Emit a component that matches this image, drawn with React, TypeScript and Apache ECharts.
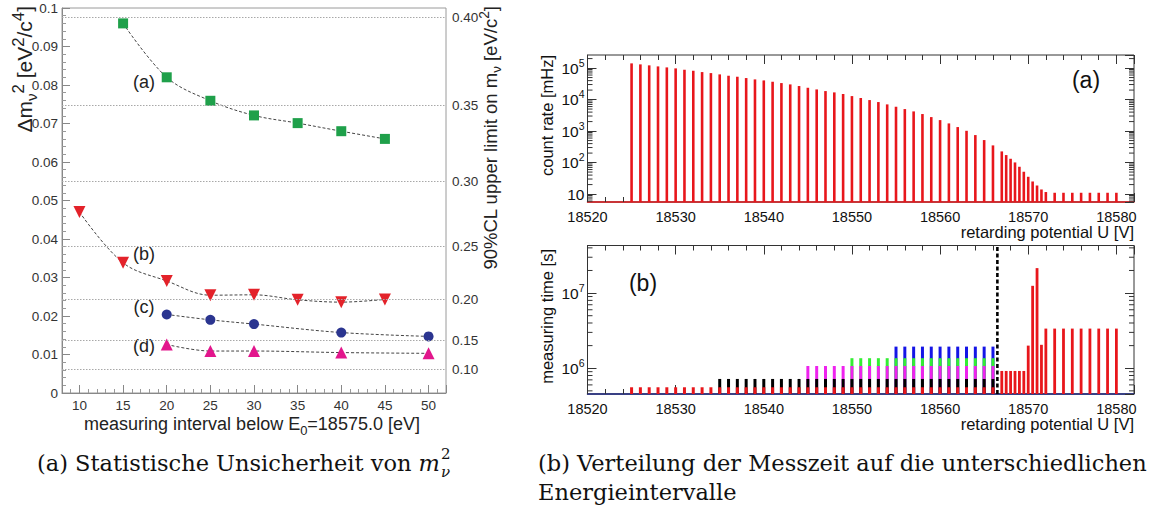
import React, { useEffect, useRef } from "react";
import * as echarts from "echarts";

// ---------- left chart data ----------
const aInterval = [15, 20, 25, 30, 35, 40, 45];
const aSigma = [0.096, 0.082, 0.0759, 0.0721, 0.0701, 0.068, 0.066];
const bInterval = [10, 15, 20, 25, 30, 35, 40, 45];
const bSigma = [0.047, 0.0338, 0.0291, 0.0254, 0.0255, 0.0242, 0.0236, 0.0243];
const cInterval = [20, 25, 30, 40, 50];
const cSigma = [0.0204, 0.019, 0.0179, 0.0157, 0.0147];
const dInterval = [20, 25, 30, 40, 50];
const dSigma = [0.0126, 0.0109, 0.0109, 0.0105, 0.0103];
const mLimitTicks = [0.1, 0.15, 0.2, 0.25, 0.3, 0.35, 0.4];
const CL90 = 1.64;

// ---------- right charts data ----------
const uStep1 = [18525, 18526, 18527, 18528, 18529, 18530, 18531, 18532, 18533, 18534, 18535, 18536, 18537, 18538, 18539, 18540, 18541, 18542, 18543, 18544, 18545, 18546, 18547, 18548, 18549, 18550, 18551, 18552, 18553, 18554, 18555, 18556, 18557, 18558, 18559, 18560, 18561, 18562, 18563, 18564, 18565, 18566];
const uFine = [18567, 18567.5, 18568, 18568.5, 18569, 18569.5, 18570, 18570.5, 18571, 18571.5, 18572];
const uTail = [18573, 18574, 18575, 18576, 18577, 18578, 18579, 18580];
const rateU = [...uStep1, ...uFine, ...uTail];
const rateMHz = [141000, 131000, 122000, 113000, 105000, 97700, 88500, 82200, 74600, 69300, 63000, 57100, 53100, 48200, 43700, 40600, 36800, 33400, 30300, 26900, 23700, 21000, 18600, 16900, 15000, 12900, 11200, 9640, 8340, 7030, 5920, 4990, 4210, 3470, 2780, 2230, 1750, 1340, 1020, 746, 518, 351,
  226, 173, 132, 101, 73.6, 51, 35.4, 25.1, 18.7, 14, 11.6,
  11, 11, 11, 11, 11, 11, 11, 11];

const time50U = uStep1;
const time50 = [5.58e5, 5.58e5, 5.58e5, 5.58e5, 5.58e5, 5.58e5, 5.58e5, 5.58e5, 5.58e5, 5.58e5, 5.58e5, 5.58e5, 5.58e5, 5.58e5, 5.58e5, 5.58e5, 5.58e5, 5.58e5, 5.58e5, 5.58e5, 5.58e5, 5.58e5, 5.58e5, 5.58e5, 5.58e5, 5.58e5, 5.58e5, 5.58e5, 5.58e5, 5.58e5, 5.58e5, 5.58e5, 5.58e5, 5.58e5, 5.58e5, 5.58e5, 5.58e5, 5.58e5, 5.58e5, 5.58e5, 5.58e5, 5.58e5];
const time40U = uStep1.slice(10);
const time40 = [7.2e5, 7.2e5, 7.2e5, 7.2e5, 7.2e5, 7.2e5, 7.2e5, 7.2e5, 7.2e5, 7.2e5, 7.2e5, 7.2e5, 7.2e5, 7.2e5, 7.2e5, 7.2e5, 7.2e5, 7.2e5, 7.2e5, 7.2e5, 7.2e5, 7.2e5, 7.2e5, 7.2e5, 7.2e5, 7.2e5, 7.2e5, 7.2e5, 7.2e5, 7.2e5, 7.2e5, 7.2e5];
const time30U = uStep1.slice(20);
const time30 = [1.07e6, 1.07e6, 1.07e6, 1.07e6, 1.07e6, 1.07e6, 1.07e6, 1.07e6, 1.07e6, 1.07e6, 1.07e6, 1.07e6, 1.07e6, 1.07e6, 1.07e6, 1.07e6, 1.07e6, 1.07e6, 1.07e6, 1.07e6, 1.07e6, 1.07e6];
const time25U = uStep1.slice(25);
const time25 = [1.36e6, 1.36e6, 1.36e6, 1.36e6, 1.36e6, 1.36e6, 1.36e6, 1.36e6, 1.36e6, 1.36e6, 1.36e6, 1.36e6, 1.36e6, 1.36e6, 1.36e6, 1.36e6, 1.36e6];
const time20U = uStep1.slice(30);
const time20 = [1.94e6, 1.94e6, 1.94e6, 1.94e6, 1.94e6, 1.94e6, 1.94e6, 1.94e6, 1.94e6, 1.94e6, 1.94e6, 1.94e6];
const timeBgU = [...uFine, ...uTail];
const timeBg = [9.2e5, 9.2e5, 9.2e5, 9.2e5, 9.2e5, 9.2e5, 2.0e6, 1.25e7, 2.15e7, 2.05e6, 3.37e6, 3.37e6, 3.37e6, 3.37e6, 3.37e6, 3.37e6, 3.37e6, 3.37e6, 3.37e6];
const endpointU = 18566.5;

const U_MIN = 18520;
const U_MAX = 18582;
const RATE_MIN = 5.6;
const RATE_MAX = 2.6e5;
const TIME_MIN = 4.54e5;
const TIME_MAX = 4.3e7;

const FONT = "'Liberation Sans', Arial, Helvetica, sans-serif";
const SERIF = "'DejaVu Serif', serif";
const CAP_SIZE = 22.5;

const zip = (xs: number[], ys: number[]) => xs.map((x, i) => [x, ys[i]]);

const barRender = (color: string, w: number) => (params: any, api: any) => {
  const p = api.coord([api.value(0), api.value(1)]);
  const cs = params.coordSys;
  const bottom = cs.y + cs.height;
  return {
    type: "rect",
    shape: { x: p[0] - w / 2, y: p[1], width: w, height: Math.max(0, bottom - p[1]) },
    style: { fill: color },
  };
};

const logMinorTicks = (lo: number, hi: number) => {
  const out: number[][] = [];
  for (let e = Math.floor(Math.log10(lo)); e <= Math.ceil(Math.log10(hi)); e++) {
    for (let k = 2; k <= 9; k++) {
      const v = k * Math.pow(10, e);
      if (v > lo && v < hi) out.push([U_MIN, v]);
    }
  }
  return out;
};

const minorRender = (params: any, api: any) => {
  const y = api.coord([api.value(0), api.value(1)])[1];
  const cs = params.coordSys;
  return {
    type: "group",
    children: [
      { type: "line", shape: { x1: cs.x, y1: y, x2: cs.x + 5, y2: y }, style: { stroke: "#333", lineWidth: 1 } },
      { type: "line", shape: { x1: cs.x + cs.width - 5, y1: y, x2: cs.x + cs.width, y2: y }, style: { stroke: "#333", lineWidth: 1 } },
    ],
  };
};

const logLabel = (v: number) => {
  const e = Math.round(Math.log10(v));
  return e === 1 ? "{b|10}" : `{b|10}{s|${e}}`;
};

const logRich = {
  b: { fontSize: 15.5, fontFamily: FONT, color: "#111", lineHeight: 22 },
  s: { fontSize: 10.5, fontFamily: FONT, color: "#111", lineHeight: 12, verticalAlign: "top" },
};

const titleRich = (size: number, color: string, supRatio = 0.75) => ({
  t: { fontSize: size, fontFamily: FONT, fill: color, lineHeight: size + 8 },
  sub: { fontSize: size * 0.72, fontFamily: FONT, fill: color, lineHeight: size * 0.72, verticalAlign: "bottom" },
  sup: { fontSize: size * supRatio, fontFamily: FONT, fill: color, lineHeight: size * supRatio, verticalAlign: "top" },
});

export default function App() {
  const ref = useRef<HTMLDivElement>(null);
  useEffect(() => {
    const chart = echarts.init(ref.current!, null, { renderer: "svg" });

    const canvas = document.createElement("canvas");
    const ctx = canvas.getContext("2d")!;
    ctx.font = `${CAP_SIZE}px ${SERIF}`;
    const capA = "(a) Statistische Unsicherheit von ";
    const wA = ctx.measureText(capA).width;
    ctx.font = `italic ${CAP_SIZE}px ${SERIF}`;
    const wM = ctx.measureText("m").width;
    const capX = 37;

    const leftAxisLabel = { fontSize: 13.5, fontFamily: FONT, color: "#333" };
    const rightXLabel = { fontSize: 14.5, fontFamily: FONT, color: "#111", margin: 7, formatter: (v: number) => String(v) };

    const lineSeries = (name: string, xs: number[], ys: number[], symbol: string, size: number, color: string, rotate = 0) => ({
      name,
      type: "line",
      xAxisIndex: 0,
      yAxisIndex: 0,
      data: zip(xs, ys),
      smooth: 0.35,
      symbol,
      symbolSize: size,
      symbolRotate: rotate,
      itemStyle: { color },
      lineStyle: { color: "#444", width: 1, type: [3, 2] },
      z: 3,
    });

    const option: any = {
      animation: false,
      backgroundColor: "#fff",
      grid: [
        { left: 62, top: 8, width: 384, height: 385, show: true, borderColor: "#9a9a9a", borderWidth: 1, backgroundColor: "transparent" },
        { left: 587.5, top: 55, width: 546.5, height: 147, show: true, borderColor: "#333", borderWidth: 1, backgroundColor: "transparent" },
        { left: 587.5, top: 245.5, width: 546.5, height: 148.5, show: true, borderColor: "#333", borderWidth: 1, backgroundColor: "transparent" },
      ],
      xAxis: [
        {
          gridIndex: 0, type: "value", min: 8, max: 52, splitNumber: 9,
          axisLine: { lineStyle: { color: "#888" } },
          axisTick: { inside: true, length: 8, lineStyle: { color: "#888" } },
          minorTick: { show: true, splitNumber: 5, length: 4, lineStyle: { color: "#999" } },
          axisLabel: { ...leftAxisLabel, margin: 5, showMinLabel: false, showMaxLabel: false },
          splitLine: { show: false },
        },
        {
          gridIndex: 1, type: "value", position: "bottom", min: U_MIN, max: U_MAX, interval: 10,
          axisLine: { lineStyle: { color: "#d81418", width: 1.5 } },
          axisTick: { inside: true, length: 9, lineStyle: { color: "#333" } },
          minorTick: { show: true, splitNumber: 5, length: 5, lineStyle: { color: "#333" } },
          axisLabel: { ...rightXLabel, showMaxLabel: false },
          splitLine: { show: false },
        },
        {
          gridIndex: 1, type: "value", position: "top", min: U_MIN, max: U_MAX, interval: 10,
          axisLine: { show: false },
          axisTick: { inside: true, length: 9, lineStyle: { color: "#333" } },
          minorTick: { show: true, splitNumber: 5, length: 5, lineStyle: { color: "#333" } },
          axisLabel: { show: false },
          splitLine: { show: false },
        },
        {
          gridIndex: 2, type: "value", position: "bottom", min: U_MIN, max: U_MAX, interval: 10,
          axisLine: { lineStyle: { color: "#1a237e", width: 1.5 } },
          axisTick: { inside: true, length: 9, lineStyle: { color: "#333" } },
          minorTick: { show: true, splitNumber: 5, length: 5, lineStyle: { color: "#333" } },
          axisLabel: { ...rightXLabel, showMaxLabel: false },
          splitLine: { show: false },
        },
        {
          gridIndex: 2, type: "value", position: "top", min: U_MIN, max: U_MAX, interval: 10,
          axisLine: { show: false },
          axisTick: { inside: true, length: 9, lineStyle: { color: "#333" } },
          minorTick: { show: true, splitNumber: 5, length: 5, lineStyle: { color: "#333" } },
          axisLabel: { show: false },
          splitLine: { show: false },
        },
      ],
      yAxis: [
        {
          gridIndex: 0, type: "value", min: 0, max: 0.1, interval: 0.01,
          axisLine: { lineStyle: { color: "#888" } },
          axisTick: { inside: true, length: 8, lineStyle: { color: "#888" } },
          minorTick: { show: true, splitNumber: 5, length: 4, lineStyle: { color: "#999" } },
          axisLabel: { ...leftAxisLabel, margin: 4 },
          splitLine: { show: false },
        },
        {
          gridIndex: 1, type: "log", position: "left", min: RATE_MIN, max: RATE_MAX,
          axisLine: { lineStyle: { color: "#333" } },
          axisTick: { inside: true, length: 9, lineStyle: { color: "#333" } },
          axisLabel: { formatter: logLabel, rich: logRich, margin: 3, showMinLabel: false, showMaxLabel: false },
          splitLine: { show: false },
        },
        {
          gridIndex: 1, type: "log", position: "right", min: RATE_MIN, max: RATE_MAX,
          axisLine: { show: false },
          axisTick: { inside: true, length: 9, lineStyle: { color: "#333" } },
          axisLabel: { show: false },
          splitLine: { show: false },
        },
        {
          gridIndex: 2, type: "log", position: "left", min: TIME_MIN, max: TIME_MAX,
          axisLine: { lineStyle: { color: "#333" } },
          axisTick: { inside: true, length: 9, lineStyle: { color: "#333" } },
          axisLabel: { formatter: logLabel, rich: logRich, margin: 3, showMinLabel: false, showMaxLabel: false },
          splitLine: { show: false },
        },
        {
          gridIndex: 2, type: "log", position: "right", min: TIME_MIN, max: TIME_MAX,
          axisLine: { show: false },
          axisTick: { inside: true, length: 9, lineStyle: { color: "#333" } },
          axisLabel: { show: false },
          splitLine: { show: false },
        },
      ],
      series: [
        {
          name: "limits",
          type: "line",
          xAxisIndex: 0,
          yAxisIndex: 0,
          data: [],
          z: 1,
          markLine: {
            silent: true,
            precision: 6,
            symbol: ["none", "none"],
            lineStyle: { color: "#a8a8a8", width: 1, type: [1.5, 1.5] },
            label: { position: "end", distance: 6, fontSize: 13.5, fontFamily: FONT, color: "#333" },
            data: mLimitTicks.map((m) => ({ yAxis: (m * m) / CL90, label: { formatter: m.toFixed(2) } })),
          },
        },
        lineSeries("(a)", aInterval, aSigma, "rect", 10, "#1fa04a"),
        lineSeries("(b)", bInterval, bSigma, "triangle", 12, "#e3222a", 180),
        lineSeries("(c)", cInterval, cSigma, "circle", 10, "#2b3590"),
        lineSeries("(d)", dInterval, dSigma, "triangle", 12, "#e2168c"),
        {
          name: "count rate",
          type: "custom",
          xAxisIndex: 1,
          yAxisIndex: 1,
          data: zip(rateU, rateMHz),
          encode: { x: 0, y: 1 },
          renderItem: barRender("#e8161b", 2.6),
        },
        {
          name: "rate minor ticks",
          type: "custom",
          xAxisIndex: 1,
          yAxisIndex: 1,
          data: logMinorTicks(RATE_MIN, RATE_MAX),
          encode: { x: 0, y: 1 },
          renderItem: minorRender,
          silent: true,
        },
        { name: "t20", type: "custom", xAxisIndex: 3, yAxisIndex: 3, data: zip(time20U, time20), encode: { x: 0, y: 1 }, renderItem: barRender("#1515e6", 3) },
        { name: "t25", type: "custom", xAxisIndex: 3, yAxisIndex: 3, data: zip(time25U, time25), encode: { x: 0, y: 1 }, renderItem: barRender("#33ee33", 3) },
        { name: "t30", type: "custom", xAxisIndex: 3, yAxisIndex: 3, data: zip(time30U, time30), encode: { x: 0, y: 1 }, renderItem: barRender("#ee22ee", 3) },
        { name: "t40", type: "custom", xAxisIndex: 3, yAxisIndex: 3, data: zip(time40U, time40), encode: { x: 0, y: 1 }, renderItem: barRender("#000000", 3) },
        { name: "t50", type: "custom", xAxisIndex: 3, yAxisIndex: 3, data: zip(time50U, time50), encode: { x: 0, y: 1 }, renderItem: barRender("#e8161b", 3) },
        { name: "tbg", type: "custom", xAxisIndex: 3, yAxisIndex: 3, data: zip(timeBgU, timeBg), encode: { x: 0, y: 1 }, renderItem: barRender("#e8161b", 2.8) },
        {
          name: "time minor ticks",
          type: "custom",
          xAxisIndex: 3,
          yAxisIndex: 3,
          data: logMinorTicks(TIME_MIN, TIME_MAX),
          encode: { x: 0, y: 1 },
          renderItem: minorRender,
          silent: true,
        },
        {
          name: "endpoint",
          type: "line",
          xAxisIndex: 3,
          yAxisIndex: 3,
          data: [[endpointU, TIME_MIN], [endpointU, TIME_MAX]],
          symbol: "none",
          lineStyle: { color: "#000", width: 2.6, type: [4, 2.5] },
          z: 5,
        },
      ],
      graphic: [
        // left chart titles
        {
          type: "text", x: 24, y: 6, rotation: Math.PI / 2,
          style: {
            text: "{t|Δm}{sub|ν}{sup|2}{t| [eV}{sup|2}{t|/c}{sup|4}{t|]}",
            rich: titleRich(21, "#222", 0.8), align: "right", verticalAlign: "middle",
          },
        },
        {
          type: "text", x: 490, y: 6, rotation: Math.PI / 2,
          style: {
            text: "{t|90%CL upper limit on m}{sub|ν}{t| [eV/c}{sup|2}{t|]}",
            rich: titleRich(18.5, "#222"), align: "right", verticalAlign: "middle",
          },
        },
        {
          type: "text", x: 252, y: 424,
          style: {
            text: "{t|measuring interval below E}{sub|0}{t|=18575.0 [eV]}",
            rich: titleRich(18, "#222"), align: "center", verticalAlign: "middle",
          },
        },
        { type: "text", x: 144, y: 82, style: { text: "(a)", fontSize: 18, fontFamily: FONT, fill: "#222", align: "center", verticalAlign: "middle" } },
        { type: "text", x: 144, y: 254, style: { text: "(b)", fontSize: 18, fontFamily: FONT, fill: "#222", align: "center", verticalAlign: "middle" } },
        { type: "text", x: 144, y: 307, style: { text: "(c)", fontSize: 18, fontFamily: FONT, fill: "#222", align: "center", verticalAlign: "middle" } },
        { type: "text", x: 144, y: 346, style: { text: "(d)", fontSize: 18, fontFamily: FONT, fill: "#222", align: "center", verticalAlign: "middle" } },
        // right chart titles
        {
          type: "text", x: 547, y: 55, rotation: Math.PI / 2,
          style: { text: "count rate [mHz]", fontSize: 16.5, fontFamily: FONT, fill: "#111", align: "right", verticalAlign: "middle" },
        },
        {
          type: "text", x: 547, y: 249, rotation: Math.PI / 2,
          style: { text: "measuring time [s]", fontSize: 16.5, fontFamily: FONT, fill: "#111", align: "right", verticalAlign: "middle" },
        },
        { type: "text", x: 1134, y: 232, style: { text: "retarding potential U [V]", fontSize: 16.5, fontFamily: FONT, fill: "#111", align: "right", verticalAlign: "middle" } },
        { type: "text", x: 1134, y: 424, style: { text: "retarding potential U [V]", fontSize: 16.5, fontFamily: FONT, fill: "#111", align: "right", verticalAlign: "middle" } },
        { type: "text", x: 1086, y: 80, style: { text: "(a)", fontSize: 23, fontFamily: FONT, fill: "#111", align: "center", verticalAlign: "middle" } },
        { type: "text", x: 643, y: 283, style: { text: "(b)", fontSize: 23, fontFamily: FONT, fill: "#111", align: "center", verticalAlign: "middle" } },
        // captions
        { type: "text", x: capX, y: 463, style: { text: capA, fontSize: CAP_SIZE, fontFamily: SERIF, fill: "#111", align: "left", verticalAlign: "middle" } },
        { type: "text", x: capX + wA, y: 463, style: { text: "m", fontSize: CAP_SIZE, fontStyle: "italic", fontFamily: SERIF, fill: "#111", align: "left", verticalAlign: "middle" } },
        { type: "text", x: capX + wA + wM + 1, y: 454, style: { text: "2", fontSize: 15, fontFamily: SERIF, fill: "#111", align: "left", verticalAlign: "middle" } },
        { type: "text", x: capX + wA + wM + 1, y: 472, style: { text: "ν", fontSize: 15, fontStyle: "italic", fontFamily: SERIF, fill: "#111", align: "left", verticalAlign: "middle" } },
        { type: "text", x: 538, y: 463, style: { text: "(b) Verteilung der Messzeit auf die unterschiedlichen", fontSize: CAP_SIZE, fontFamily: SERIF, fill: "#111", align: "left", verticalAlign: "middle" } },
        { type: "text", x: 538, y: 492, style: { text: "Energieintervalle", fontSize: CAP_SIZE, fontFamily: SERIF, fill: "#111", align: "left", verticalAlign: "middle" } },
      ],
    };

    chart.setOption(option);
    return () => chart.dispose();
  }, []);

  return (
    <div
      ref={ref}
      style={{ position: "fixed", left: 0, top: 0, width: 1163, height: 517, background: "#fff" }}
    />
  );
}
